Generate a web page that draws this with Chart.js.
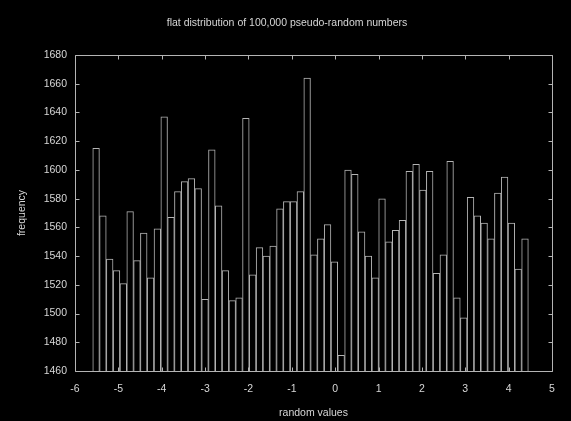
<!DOCTYPE html>
<html>
<head>
<meta charset="utf-8">
<script src="https://cdn.jsdelivr.net/npm/chart.js@4"></script>
<style>
  html, body { margin: 0; padding: 0; background: #000; }
  #wrap { width: 571px; height: 421px; position: relative; }
</style>
</head>
<body>
<div id="wrap"><canvas id="myChart"></canvas></div>
<script>
// histogram bins: left edge of the first bin and the bin width
const binStart = -5.592;
const binWidth = 0.157;
const counts = [
  1615, 1568, 1538, 1530, 1521, 1571, 1537, 1556, 1525, 1559,
  1637, 1567, 1585, 1592, 1594, 1587, 1510, 1614, 1575, 1530,
  1509, 1511, 1636, 1527, 1546, 1540, 1547, 1573, 1578, 1578,
  1585, 1664, 1541, 1552, 1562, 1536, 1471, 1600, 1597, 1557,
  1540, 1525, 1580, 1550, 1558, 1565, 1599, 1604, 1586, 1599,
  1528, 1541, 1606, 1511, 1497, 1581, 1568, 1563, 1552, 1584,
  1595, 1563, 1531, 1552
];
const xTickValues = [-6, -5, -4, -3, -2, -1, 0, 1, 2, 3, 4, 5];
const yTickValues = [1460, 1480, 1500, 1520, 1540, 1560, 1580, 1600, 1620, 1640, 1660, 1680];

const lineColor = "rgb(180, 180, 180)";
const textColor = "rgb(215, 215, 215)";
const font = { family: "'Liberation Sans', Arial, sans-serif", size: 10.5, weight: "normal" };

const points = counts.map((c, i) => ({ x: binStart + binWidth * (i + 0.5), y: c }));

// gnuplot style frame with inward ticks on all four sides
const frame = {
  id: "frame",
  afterDatasetsDraw(chart) {
    const { ctx, chartArea: a, scales } = chart;
    const tick = 4;
    const L = Math.round(a.left) + 0.5, R = Math.round(a.right) + 0.5;
    const T = Math.round(a.top) + 0.5, B = Math.round(a.bottom) + 0.5;
    ctx.save();
    ctx.strokeStyle = lineColor;
    ctx.lineWidth = 1;
    ctx.beginPath();
    ctx.rect(L, T, R - L, B - T);
    scales.x.ticks.forEach((t) => {
      const px = Math.round(scales.x.getPixelForValue(t.value)) + 0.5;
      ctx.moveTo(px, B); ctx.lineTo(px, B - tick);
      ctx.moveTo(px, T); ctx.lineTo(px, T + tick);
    });
    scales.y.ticks.forEach((t) => {
      const py = Math.round(scales.y.getPixelForValue(t.value)) + 0.5;
      ctx.moveTo(L, py); ctx.lineTo(L + tick, py);
      ctx.moveTo(R, py); ctx.lineTo(R - tick, py);
    });
    ctx.stroke();
    ctx.restore();
  },
};

const config = {
  type: "bar",
  data: {
    datasets: [
      {
        data: points,
        base: yTickValues[0],
        backgroundColor: "rgba(0,0,0,0)",
        borderColor: lineColor,
        borderWidth: 0.5,
        inflateAmount: 0.25,
        barPercentage: 1,
        categoryPercentage: 1,
      },
    ],
  },
  options: {
    responsive: true,
    maintainAspectRatio: false,
    animation: false,
    layout: { padding: { left: 22, right: 19, top: 0, bottom: 0 } },
    plugins: {
      legend: { display: false },
      tooltip: { enabled: false },
      title: {
        display: true,
        text: "flat distribution of 100,000 pseudo-random numbers",
        color: textColor,
        font: font,
        padding: { top: 16.5, bottom: 25.9 },
      },
    },
    scales: {
      x: {
        type: "linear",
        offset: false,
        min: -6,
        max: 5,
        afterBuildTicks: (scale) => {
          scale.ticks = xTickValues.map((v) => ({ value: v }));
        },
        afterFit: (scale) => {
          scale.height = 50;
        },
        grid: { display: false, drawTicks: false, drawOnChartArea: false, offset: false },
        border: { display: false },
        ticks: {
          color: textColor,
          font: font,
          padding: 12,
          autoSkip: false,
          maxRotation: 0,
          callback: (value) => String(value),
        },
        title: {
          display: true,
          text: "random values",
          color: textColor,
          font: font,
          padding: { top: 0, bottom: 1.2 },
        },
      },
      y: {
        min: 1460,
        max: 1680,
        beginAtZero: false,
        afterBuildTicks: (scale) => {
          scale.ticks = yTickValues.map((v) => ({ value: v }));
        },
        afterFit: (scale) => {
          scale.width = 53;
        },
        grid: { display: false, drawTicks: false, drawOnChartArea: false },
        border: { display: false },
        ticks: { color: textColor, font: font, padding: 8, callback: (value) => String(value) },
        title: {
          display: true,
          text: "frequency",
          color: textColor,
          font: font,
          padding: { top: -6.3, bottom: 0 },
        },
      },
    },
  },
  plugins: [frame],
};

let myChart = new Chart(document.getElementById("myChart"), config);
</script>
</body>
</html>
